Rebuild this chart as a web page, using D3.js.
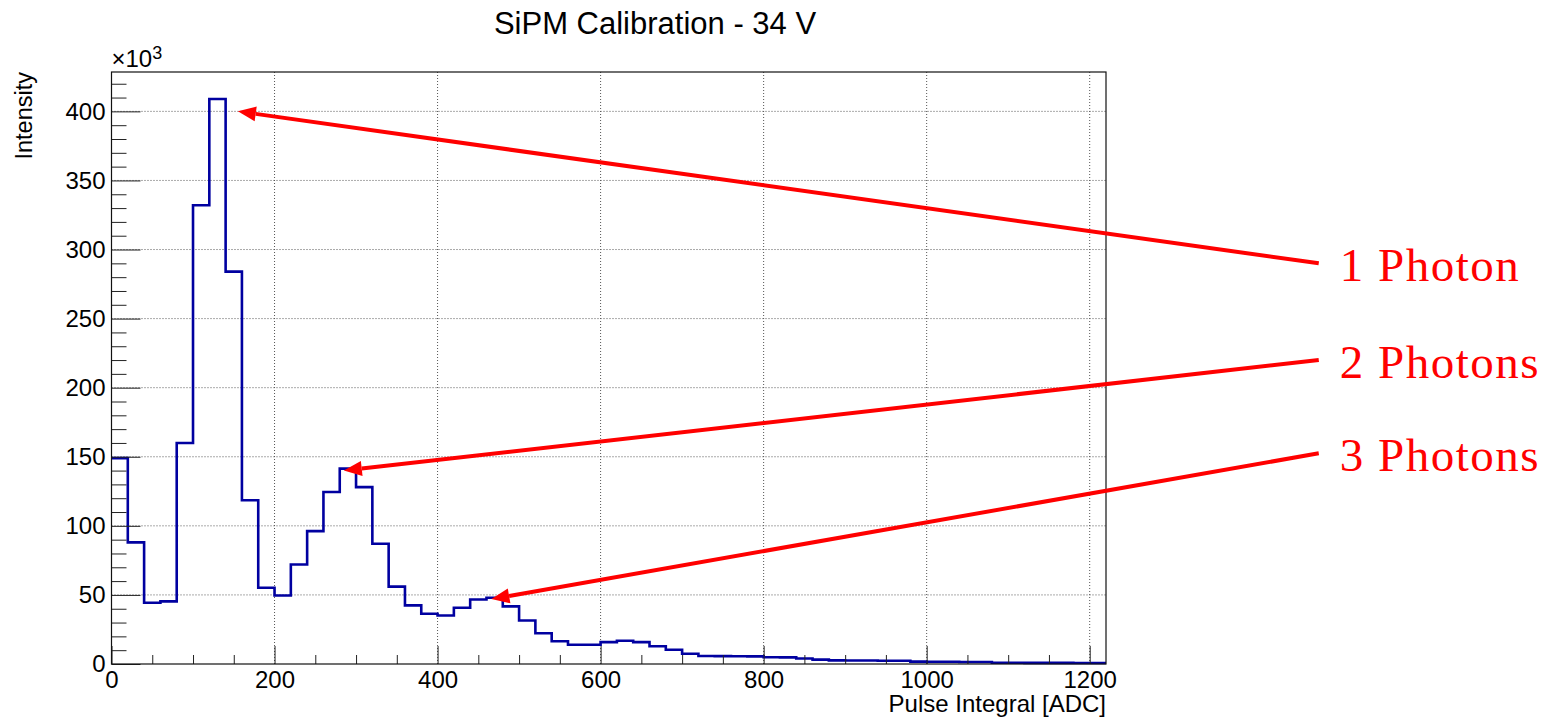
<!DOCTYPE html>
<html>
<head>
<meta charset="utf-8">
<script src="https://cdn.jsdelivr.net/npm/d3@7"></script>
<style>
    body { margin: 0; background: #fff; }
    svg { display: block; }
    text { font-family: 'Liberation Sans', Arial, sans-serif; fill: #000; }
    .note { font-family: 'Liberation Serif', 'Times New Roman', serif; fill: #ff0000; letter-spacing: 1.5px; }
</style>
</head>
<body>
<svg id="chart"></svg>
<script>
// histogram: 20 ADC wide bins from 0 to 1220, counts in units of 10^3
const binWidth = 20;
const xRange = [0, 1220];
const counts = [
    149, 88, 44.3, 45.3, 160, 332, 409, 284, 118.5, 55.2,
    49.6, 72, 96.2, 124.5, 141.4, 128, 87, 56, 42.4, 36.4,
    35.1, 40.7, 46.7, 48, 41.7, 31.5, 22.3, 16.5, 13.9, 13.9,
    15.8, 16.8, 15.8, 12.9, 10.3, 7.4, 5.8, 5.7, 5.6, 5.5,
    4.9, 4.8, 4.0, 3.2, 2.6, 2.5, 2.5, 2.4, 2.4, 1.7,
    1.6, 1.6, 1.5, 1.5, 0.9, 0.9, 0.8, 0.8, 0.8, 0.7,
    0.7
];
const yMax = 428.5;

const xMajorTicks = [0, 200, 400, 600, 800, 1000, 1200];
const yMajorTicks = [0, 50, 100, 150, 200, 250, 300, 350, 400];

// annotations: label, arrow tip (data), tail (data, outside the frame)
const noteLabels = ['1 Photon', '2 Photons', '3 Photons'];
const noteTips = [[155, 400], [285, 140], [466, 47]];
const noteTails = [[1481, 290], [1481, 220], [1481, 152.5]];

const margin = { top: 72, right: 444, bottom: 55, left: 111.5 };
const W = 1550, H = 719;
const width = W - margin.left - margin.right;
const height = H - margin.top - margin.bottom;

const x = d3.scaleLinear().domain(xRange).range([0, width]);
const y = d3.scaleLinear().domain([0, yMax]).range([height, 0]);

const svg = d3.select('#chart').attr('width', W).attr('height', H);
const g = svg.append('g').attr('transform', `translate(${margin.left}, ${margin.top})`);

// grid
g.append('g').selectAll('line')
    .data(xMajorTicks.filter((d) => d > 0))
    .enter().append('line')
        .attr('x1', (d) => x(d)).attr('x2', (d) => x(d))
        .attr('y1', 0).attr('y2', height)
        .attr('stroke', '#555').attr('stroke-dasharray', '1,2');
g.append('g').selectAll('line')
    .data(yMajorTicks.filter((d) => d > 0))
    .enter().append('line')
        .attr('x1', 0).attr('x2', width)
        .attr('y1', (d) => y(d)).attr('y2', (d) => y(d))
        .attr('stroke', '#555').attr('stroke-dasharray', '1,2');

// histogram outline
const steps = counts.map((c, i) => [xRange[0] + i * binWidth, c]);
steps.push([xRange[1], counts[counts.length - 1]]);
g.append('path')
    .datum(steps)
    .attr('fill', 'none')
    .attr('stroke', '#0000a0')
    .attr('stroke-width', 2.6)
    .attr('d', d3.line()
        .x((d) => x(d[0]))
        .y((d) => y(d[1]))
        .curve(d3.curveStepAfter));

// x axis ticks (inside, upward)
const xAxis = d3.axisBottom(x).tickValues(d3.range(0, 1201, 50)).tickSizeOuter(0)
    .tickFormat((d) => (d % 200 === 0 ? d : ''));
const gx = g.append('g').attr('transform', `translate(0, ${height})`).call(xAxis);
gx.select('.domain').remove();
gx.selectAll('.tick line')
    .attr('y2', (d) => (d % 200 === 0 ? -18 : -9))
    .attr('stroke', '#222');
gx.selectAll('.tick text')
    .attr('y', 7).attr('dy', '0.71em')
    .style('font-size', '24px');

// y axis ticks (inside, rightward)
const yAxis = d3.axisLeft(y).tickValues(d3.range(0, 421, 10)).tickSizeOuter(0)
    .tickFormat((d) => (d % 50 === 0 ? d : ''));
const gy = g.append('g').call(yAxis);
gy.select('.domain').remove();
gy.selectAll('.tick line')
    .attr('x2', (d) => (d % 50 === 0 ? 29 : 15))
    .attr('stroke', '#222');
gy.selectAll('.tick text')
    .attr('x', -6)
    .style('font-size', '24px');
svg.selectAll('.tick text').attr('font-family', null);

// frame
g.append('rect')
    .attr('width', width).attr('height', height)
    .attr('fill', 'none').attr('stroke', '#111').attr('stroke-width', 1.2);

// exponent label
const expo = g.append('text').attr('x', 0).attr('y', -5).style('font-size', '24px');
expo.append('tspan').text('\u00d710');
expo.append('tspan').attr('dy', -8).style('font-size', '18px').text('3');

// titles
svg.append('text')
    .attr('x', 655).attr('y', 34)
    .attr('text-anchor', 'middle')
    .style('font-size', '31px')
    .text('SiPM Calibration - 34 V');

g.append('text')
    .attr('x', width).attr('y', height + 48)
    .attr('text-anchor', 'end')
    .style('font-size', '24px')
    .text('Pulse Integral [ADC]');

g.append('text')
    .attr('transform', `translate(${-80}, 0) rotate(-90)`)
    .attr('text-anchor', 'end')
    .style('font-size', '23.5px')
    .text('Intensity');

// red arrows + labels
const headLen = 18, headHalf = 7.5;
const notes = g.append('g');
noteLabels.forEach((label, i) => {
    const tx = x(noteTips[i][0]), ty = y(noteTips[i][1]);
    const sx = x(noteTails[i][0]), sy = y(noteTails[i][1]);
    const a = Math.atan2(ty - sy, tx - sx);
    const bx = tx - headLen * Math.cos(a), by = ty - headLen * Math.sin(a);
    notes.append('line')
        .attr('x1', sx).attr('y1', sy).attr('x2', bx).attr('y2', by)
        .attr('stroke', '#ff0000').attr('stroke-width', 4);
    notes.append('path')
        .attr('d', `M${tx},${ty}L${bx - headHalf * Math.sin(a)},${by + headHalf * Math.cos(a)}` +
            `L${bx + headHalf * Math.sin(a)},${by - headHalf * Math.cos(a)}Z`)
        .attr('fill', '#ff0000');
    notes.append('text')
        .attr('class', 'note')
        .attr('x', sx + 21).attr('y', sy + 18)
        .style('font-size', '47px')
        .text(label);
});
</script>
</body>
</html>
